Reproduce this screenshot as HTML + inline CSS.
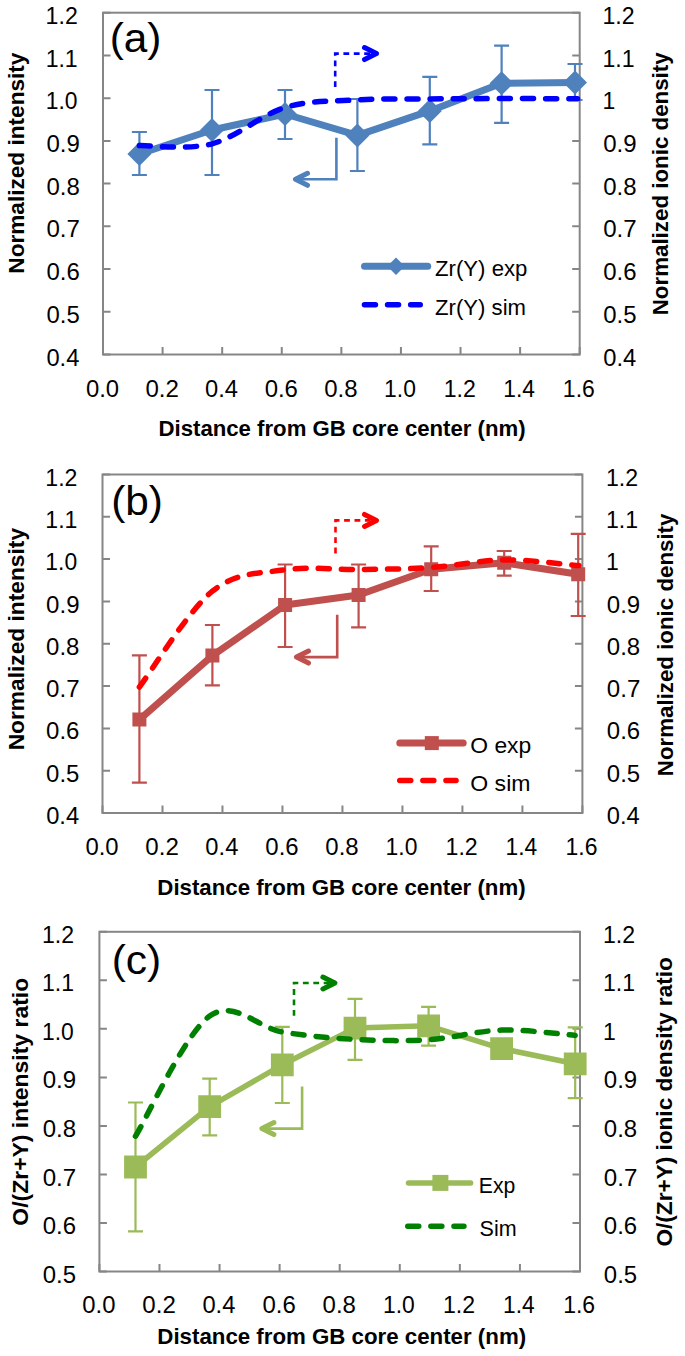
<!DOCTYPE html><html><head><meta charset="utf-8"><style>html,body{margin:0;padding:0;background:#fff;}svg{display:block;}</style></head><body>
<svg width="685" height="1356" viewBox="0 0 685 1356" font-family='"Liberation Sans", sans-serif'>
<rect width="685" height="1356" fill="#fff"/>
<g id="panel-a"><rect x="103" y="12.7" width="476.70" height="341.80" fill="none" stroke="#868686" stroke-width="2"/>
<path d="M103,354.50h7.5M579.7,354.50h-7.5M103,311.77h7.5M579.7,311.77h-7.5M103,269.05h7.5M579.7,269.05h-7.5M103,226.32h7.5M579.7,226.32h-7.5M103,183.60h7.5M579.7,183.60h-7.5M103,140.88h7.5M579.7,140.88h-7.5M103,98.15h7.5M579.7,98.15h-7.5M103,55.42h7.5M579.7,55.42h-7.5M103,12.70h7.5M579.7,12.70h-7.5M103.00,354.5v-7.5M162.59,354.5v-7.5M222.18,354.5v-7.5M281.76,354.5v-7.5M341.35,354.5v-7.5M400.94,354.5v-7.5M460.53,354.5v-7.5M520.11,354.5v-7.5M579.70,354.5v-7.5" stroke="#868686" stroke-width="2" fill="none"/>
<g font-size="23" fill="#000"><text x="46.45" y="365.60" textLength="32.96" lengthAdjust="spacingAndGlyphs">0.4</text><text x="603.25" y="365.60" textLength="32.96" lengthAdjust="spacingAndGlyphs">0.4</text><text x="46.44" y="322.88" textLength="33.27" lengthAdjust="spacingAndGlyphs">0.5</text><text x="603.24" y="322.88" textLength="33.27" lengthAdjust="spacingAndGlyphs">0.5</text><text x="46.44" y="280.15" textLength="33.32" lengthAdjust="spacingAndGlyphs">0.6</text><text x="603.24" y="280.15" textLength="33.32" lengthAdjust="spacingAndGlyphs">0.6</text><text x="46.44" y="237.42" textLength="33.47" lengthAdjust="spacingAndGlyphs">0.7</text><text x="603.24" y="237.42" textLength="33.47" lengthAdjust="spacingAndGlyphs">0.7</text><text x="46.44" y="194.70" textLength="33.32" lengthAdjust="spacingAndGlyphs">0.8</text><text x="603.24" y="194.70" textLength="33.32" lengthAdjust="spacingAndGlyphs">0.8</text><text x="46.44" y="151.97" textLength="33.42" lengthAdjust="spacingAndGlyphs">0.9</text><text x="603.24" y="151.97" textLength="33.42" lengthAdjust="spacingAndGlyphs">0.9</text><text x="45.66" y="109.25" textLength="31.81" lengthAdjust="spacingAndGlyphs">1.0</text><text x="602.45" y="109.25" textLength="12.79" lengthAdjust="spacingAndGlyphs">1</text><text x="45.65" y="66.52" textLength="32.06" lengthAdjust="spacingAndGlyphs">1.1</text><text x="602.45" y="66.52" textLength="32.06" lengthAdjust="spacingAndGlyphs">1.1</text><text x="45.64" y="23.80" textLength="32.11" lengthAdjust="spacingAndGlyphs">1.2</text><text x="602.44" y="23.80" textLength="32.11" lengthAdjust="spacingAndGlyphs">1.2</text><text x="85.90" y="396.60" textLength="33.16" lengthAdjust="spacingAndGlyphs">0.0</text><text x="145.47" y="396.60" textLength="33.47" lengthAdjust="spacingAndGlyphs">0.2</text><text x="205.08" y="396.60" textLength="32.96" lengthAdjust="spacingAndGlyphs">0.4</text><text x="264.65" y="396.60" textLength="33.32" lengthAdjust="spacingAndGlyphs">0.6</text><text x="324.24" y="396.60" textLength="33.32" lengthAdjust="spacingAndGlyphs">0.8</text><text x="384.10" y="396.60" textLength="31.81" lengthAdjust="spacingAndGlyphs">1.0</text><text x="443.67" y="396.60" textLength="32.11" lengthAdjust="spacingAndGlyphs">1.2</text><text x="503.28" y="396.60" textLength="31.61" lengthAdjust="spacingAndGlyphs">1.4</text><text x="562.85" y="396.60" textLength="31.96" lengthAdjust="spacingAndGlyphs">1.6</text></g>
<text x="158.54" y="436.00" font-size="22" font-weight="bold" textLength="367.06" lengthAdjust="spacingAndGlyphs">Distance from GB core center (nm)</text>
<text transform="translate(24.00,272.20) rotate(-90)" x="-1.49" y="0" font-size="22" font-weight="bold" textLength="221.12" lengthAdjust="spacingAndGlyphs">Normalized intensity</text>
<text transform="translate(667.80,313.80) rotate(-90)" x="-1.47" y="0" font-size="22" font-weight="bold" textLength="262.92" lengthAdjust="spacingAndGlyphs">Normalized ionic density</text>
<text x="109.67" y="52.10" font-size="41" textLength="51.76" lengthAdjust="spacingAndGlyphs">(a)</text>
<path d="M139.40,132.00V175.00M131.90,132.00h15M131.90,175.00h15M212.00,90.00V175.00M204.50,90.00h15M204.50,175.00h15M285.00,90.00V139.00M277.50,90.00h15M277.50,139.00h15M357.40,99.00V171.00M349.90,99.00h15M349.90,171.00h15M429.80,76.80V144.30M422.30,76.80h15M422.30,144.30h15M501.60,45.70V122.80M494.10,45.70h15M494.10,122.80h15M575.00,64.00V100.00M567.50,64.00h15M567.50,100.00h15" stroke="#4F81BD" stroke-width="2.2" fill="none"/>
<path d="M139.40,154.00 L212.00,130.00 L285.00,114.00 L357.40,135.40 L429.80,110.90 L501.60,83.30 L575.00,82.60" stroke="#4F81BD" stroke-width="7" fill="none" stroke-linejoin="round"/>
<path d="M139.40,142.00L151.40,154.00L139.40,166.00L127.40,154.00ZM212.00,118.00L224.00,130.00L212.00,142.00L200.00,130.00ZM285.00,102.00L297.00,114.00L285.00,126.00L273.00,114.00ZM357.40,123.40L369.40,135.40L357.40,147.40L345.40,135.40ZM429.80,98.90L441.80,110.90L429.80,122.90L417.80,110.90ZM501.60,71.30L513.60,83.30L501.60,95.30L489.60,83.30ZM575.00,70.60L587.00,82.60L575.00,94.60L563.00,82.60Z" fill="#4F81BD"/>
<path d="M139.40,145.60 C151.50,145.30 187.73,150.15 212.00,143.80 C236.27,137.45 260.83,114.82 285.00,107.50 C309.17,100.18 332.83,101.33 357.00,99.90 C381.17,98.47 405.93,99.12 430.00,98.90 C454.07,98.68 476.82,98.63 501.40,98.60 C525.98,98.57 564.82,98.68 577.50,98.70" stroke="#0000FF" stroke-width="5.5" fill="none" stroke-dasharray="11 12.1" stroke-linecap="round"/>
<path d="M335.2,87V53.6H377" stroke="#0000FF" stroke-width="2.6" fill="none" stroke-dasharray="5.8 4.6"/>
<path d="M364.50,47.60 L376.50,53.60 L364.50,59.60" stroke="#0000FF" stroke-width="5" fill="none" stroke-linecap="round" stroke-linejoin="round"/>
<path d="M336.4,137.7V179.3H295" stroke="#4F81BD" stroke-width="2.6" fill="none"/>
<path d="M307.50,173.30 L295.50,179.30 L307.50,185.30" stroke="#4F81BD" stroke-width="5" fill="none" stroke-linecap="round" stroke-linejoin="round"/>
<path d="M364.5,266.3H427.7" stroke="#4F81BD" stroke-width="7" stroke-linecap="round"/>
<path d="M396,257.6L404.7,266.3L396,275.0L387.3,266.3Z" fill="#4F81BD"/>
<path d="M364.45,304.8H420.25" stroke="#0000FF" stroke-width="5.5" stroke-linecap="round" stroke-dasharray="11 12.1"/>
<text x="435.09" y="276.30" font-size="22.2" textLength="92.26" lengthAdjust="spacingAndGlyphs">Zr(Y) exp</text>
<text x="435.09" y="315.30" font-size="22.2" textLength="90.97" lengthAdjust="spacingAndGlyphs">Zr(Y) sim</text></g>
<g id="panel-b"><rect x="102.5" y="474.5" width="479.90" height="338.50" fill="none" stroke="#868686" stroke-width="2"/>
<path d="M102.5,813.00h7.5M582.4,813.00h-7.5M102.5,770.69h7.5M582.4,770.69h-7.5M102.5,728.38h7.5M582.4,728.38h-7.5M102.5,686.06h7.5M582.4,686.06h-7.5M102.5,643.75h7.5M582.4,643.75h-7.5M102.5,601.44h7.5M582.4,601.44h-7.5M102.5,559.12h7.5M582.4,559.12h-7.5M102.5,516.81h7.5M582.4,516.81h-7.5M102.5,474.50h7.5M582.4,474.50h-7.5M102.50,813v-7.5M162.49,813v-7.5M222.47,813v-7.5M282.46,813v-7.5M342.45,813v-7.5M402.44,813v-7.5M462.42,813v-7.5M522.41,813v-7.5M582.40,813v-7.5" stroke="#868686" stroke-width="2" fill="none"/>
<g font-size="23" fill="#000"><text x="46.15" y="824.10" textLength="32.96" lengthAdjust="spacingAndGlyphs">0.4</text><text x="606.85" y="824.10" textLength="32.96" lengthAdjust="spacingAndGlyphs">0.4</text><text x="46.14" y="781.79" textLength="33.27" lengthAdjust="spacingAndGlyphs">0.5</text><text x="606.84" y="781.79" textLength="33.27" lengthAdjust="spacingAndGlyphs">0.5</text><text x="46.14" y="739.48" textLength="33.32" lengthAdjust="spacingAndGlyphs">0.6</text><text x="606.84" y="739.48" textLength="33.32" lengthAdjust="spacingAndGlyphs">0.6</text><text x="46.14" y="697.16" textLength="33.47" lengthAdjust="spacingAndGlyphs">0.7</text><text x="606.84" y="697.16" textLength="33.47" lengthAdjust="spacingAndGlyphs">0.7</text><text x="46.14" y="654.85" textLength="33.32" lengthAdjust="spacingAndGlyphs">0.8</text><text x="606.84" y="654.85" textLength="33.32" lengthAdjust="spacingAndGlyphs">0.8</text><text x="46.14" y="612.54" textLength="33.42" lengthAdjust="spacingAndGlyphs">0.9</text><text x="606.84" y="612.54" textLength="33.42" lengthAdjust="spacingAndGlyphs">0.9</text><text x="45.36" y="570.23" textLength="31.81" lengthAdjust="spacingAndGlyphs">1.0</text><text x="606.05" y="570.23" textLength="12.79" lengthAdjust="spacingAndGlyphs">1</text><text x="45.35" y="527.91" textLength="32.06" lengthAdjust="spacingAndGlyphs">1.1</text><text x="606.05" y="527.91" textLength="32.06" lengthAdjust="spacingAndGlyphs">1.1</text><text x="45.34" y="485.60" textLength="32.11" lengthAdjust="spacingAndGlyphs">1.2</text><text x="606.04" y="485.60" textLength="32.11" lengthAdjust="spacingAndGlyphs">1.2</text><text x="85.40" y="855.00" textLength="33.16" lengthAdjust="spacingAndGlyphs">0.0</text><text x="145.37" y="855.00" textLength="33.47" lengthAdjust="spacingAndGlyphs">0.2</text><text x="205.38" y="855.00" textLength="32.96" lengthAdjust="spacingAndGlyphs">0.4</text><text x="265.35" y="855.00" textLength="33.32" lengthAdjust="spacingAndGlyphs">0.6</text><text x="325.34" y="855.00" textLength="33.32" lengthAdjust="spacingAndGlyphs">0.8</text><text x="385.60" y="855.00" textLength="31.81" lengthAdjust="spacingAndGlyphs">1.0</text><text x="445.57" y="855.00" textLength="32.11" lengthAdjust="spacingAndGlyphs">1.2</text><text x="505.58" y="855.00" textLength="31.61" lengthAdjust="spacingAndGlyphs">1.4</text><text x="565.55" y="855.00" textLength="31.96" lengthAdjust="spacingAndGlyphs">1.6</text></g>
<text x="157.33" y="895.40" font-size="22" font-weight="bold" textLength="368.27" lengthAdjust="spacingAndGlyphs">Distance from GB core center (nm)</text>
<text transform="translate(24.00,748.80) rotate(-90)" x="-1.50" y="0" font-size="22" font-weight="bold" textLength="222.33" lengthAdjust="spacingAndGlyphs">Normalized intensity</text>
<text transform="translate(672.70,774.70) rotate(-90)" x="-1.47" y="0" font-size="22" font-weight="bold" textLength="262.61" lengthAdjust="spacingAndGlyphs">Normalized ionic density</text>
<text x="111.17" y="514.90" font-size="41" textLength="51.76" lengthAdjust="spacingAndGlyphs">(b)</text>
<path d="M139.40,655.40V782.60M131.90,655.40h15M131.90,782.60h15M212.40,625.00V685.40M204.90,625.00h15M204.90,685.40h15M285.10,564.50V647.00M277.60,564.50h15M277.60,647.00h15M358.60,564.50V627.30M351.10,564.50h15M351.10,627.30h15M431.20,546.40V591.00M423.70,546.40h15M423.70,591.00h15M504.20,551.00V575.60M496.70,551.00h15M496.70,575.60h15M578.20,533.90V616.00M570.70,533.90h15M570.70,616.00h15" stroke="#C0504D" stroke-width="2.2" fill="none"/>
<path d="M139.40,719.60 L212.40,655.60 L285.10,605.00 L358.60,595.00 L431.20,569.20 L504.20,562.80 L578.20,574.20" stroke="#C0504D" stroke-width="7" fill="none" stroke-linejoin="round"/>
<path d="M132.40,712.60h14v14h-14ZM205.40,648.60h14v14h-14ZM278.10,598.00h14v14h-14ZM351.60,588.00h14v14h-14ZM424.20,562.20h14v14h-14ZM497.20,555.80h14v14h-14ZM571.20,567.20h14v14h-14Z" fill="#C0504D"/>
<path d="M139.40,687.00 C151.57,671.03 188.12,610.73 212.40,591.20 C236.68,571.67 260.73,573.42 285.10,569.80 C309.47,566.18 334.25,569.88 358.60,569.50 C382.95,569.12 406.93,569.10 431.20,567.50 C455.47,565.90 479.57,560.22 504.20,559.90 C528.83,559.58 566.53,564.65 579.00,565.60" stroke="#FF0000" stroke-width="5.5" fill="none" stroke-dasharray="11 12.1" stroke-linecap="round"/>
<path d="M335.5,553.4V520.4H377" stroke="#FF0000" stroke-width="2.6" fill="none" stroke-dasharray="5.8 4.6"/>
<path d="M364.50,514.40 L376.50,520.40 L364.50,526.40" stroke="#FF0000" stroke-width="5" fill="none" stroke-linecap="round" stroke-linejoin="round"/>
<path d="M337.2,614.7V657.1H296" stroke="#C0504D" stroke-width="2.6" fill="none"/>
<path d="M308.50,651.10 L296.50,657.10 L308.50,663.10" stroke="#C0504D" stroke-width="5" fill="none" stroke-linecap="round" stroke-linejoin="round"/>
<path d="M399.8,743.1H463.2" stroke="#C0504D" stroke-width="7" stroke-linecap="round"/>
<rect x="424.8" y="736.1" width="14" height="14" fill="#C0504D"/>
<path d="M399.75,780.4H456.05" stroke="#FF0000" stroke-width="5.5" stroke-linecap="round" stroke-dasharray="11 12.1"/>
<text x="470.30" y="752.50" font-size="22.2" textLength="60.96" lengthAdjust="spacingAndGlyphs">O exp</text>
<text x="470.29" y="791.00" font-size="22.2" textLength="60.20" lengthAdjust="spacingAndGlyphs">O sim</text></g>
<g id="panel-c"><rect x="99.4" y="931.8" width="480.60" height="339.70" fill="none" stroke="#868686" stroke-width="2"/>
<path d="M99.4,1271.50h7.5M580,1271.50h-7.5M99.4,1222.97h7.5M580,1222.97h-7.5M99.4,1174.44h7.5M580,1174.44h-7.5M99.4,1125.91h7.5M580,1125.91h-7.5M99.4,1077.39h7.5M580,1077.39h-7.5M99.4,1028.86h7.5M580,1028.86h-7.5M99.4,980.33h7.5M580,980.33h-7.5M99.4,931.80h7.5M580,931.80h-7.5M99.40,1271.5v-7.5M159.48,1271.5v-7.5M219.55,1271.5v-7.5M279.62,1271.5v-7.5M339.70,1271.5v-7.5M399.77,1271.5v-7.5M459.85,1271.5v-7.5M519.93,1271.5v-7.5M580.00,1271.5v-7.5" stroke="#868686" stroke-width="2" fill="none"/>
<g font-size="23" fill="#000"><text x="42.74" y="1282.60" textLength="33.27" lengthAdjust="spacingAndGlyphs">0.5</text><text x="603.84" y="1282.60" textLength="33.27" lengthAdjust="spacingAndGlyphs">0.5</text><text x="42.74" y="1234.07" textLength="33.32" lengthAdjust="spacingAndGlyphs">0.6</text><text x="603.84" y="1234.07" textLength="33.32" lengthAdjust="spacingAndGlyphs">0.6</text><text x="42.74" y="1185.54" textLength="33.47" lengthAdjust="spacingAndGlyphs">0.7</text><text x="603.84" y="1185.54" textLength="33.47" lengthAdjust="spacingAndGlyphs">0.7</text><text x="42.74" y="1137.01" textLength="33.32" lengthAdjust="spacingAndGlyphs">0.8</text><text x="603.84" y="1137.01" textLength="33.32" lengthAdjust="spacingAndGlyphs">0.8</text><text x="42.74" y="1088.49" textLength="33.42" lengthAdjust="spacingAndGlyphs">0.9</text><text x="603.84" y="1088.49" textLength="33.42" lengthAdjust="spacingAndGlyphs">0.9</text><text x="41.96" y="1039.96" textLength="31.81" lengthAdjust="spacingAndGlyphs">1.0</text><text x="603.05" y="1039.96" textLength="12.79" lengthAdjust="spacingAndGlyphs">1</text><text x="41.95" y="991.43" textLength="32.06" lengthAdjust="spacingAndGlyphs">1.1</text><text x="603.05" y="991.43" textLength="32.06" lengthAdjust="spacingAndGlyphs">1.1</text><text x="41.94" y="942.90" textLength="32.11" lengthAdjust="spacingAndGlyphs">1.2</text><text x="603.04" y="942.90" textLength="32.11" lengthAdjust="spacingAndGlyphs">1.2</text><text x="82.30" y="1312.90" textLength="33.16" lengthAdjust="spacingAndGlyphs">0.0</text><text x="142.36" y="1312.90" textLength="33.47" lengthAdjust="spacingAndGlyphs">0.2</text><text x="202.45" y="1312.90" textLength="32.96" lengthAdjust="spacingAndGlyphs">0.4</text><text x="262.52" y="1312.90" textLength="33.32" lengthAdjust="spacingAndGlyphs">0.6</text><text x="322.59" y="1312.90" textLength="33.32" lengthAdjust="spacingAndGlyphs">0.8</text><text x="382.94" y="1312.90" textLength="31.81" lengthAdjust="spacingAndGlyphs">1.0</text><text x="442.99" y="1312.90" textLength="32.11" lengthAdjust="spacingAndGlyphs">1.2</text><text x="503.10" y="1312.90" textLength="31.61" lengthAdjust="spacingAndGlyphs">1.4</text><text x="563.15" y="1312.90" textLength="31.96" lengthAdjust="spacingAndGlyphs">1.6</text></g>
<text x="157.33" y="1343.50" font-size="22" font-weight="bold" textLength="368.77" lengthAdjust="spacingAndGlyphs">Distance from GB core center (nm)</text>
<text transform="translate(28.00,1224.70) rotate(-90)" x="-0.96" y="0" font-size="22" font-weight="bold" textLength="247.86" lengthAdjust="spacingAndGlyphs">O/(Zr+Y) intensity ratio</text>
<text transform="translate(672.00,1245.60) rotate(-90)" x="-0.95" y="0" font-size="22" font-weight="bold" textLength="289.35" lengthAdjust="spacingAndGlyphs">O/(Zr+Y) ionic density ratio</text>
<text x="111.66" y="974.30" font-size="41" textLength="49.57" lengthAdjust="spacingAndGlyphs">(c)</text>
<path d="M135.50,1102.50V1231.30M128.00,1102.50h15M128.00,1231.30h15M209.70,1078.70V1135.30M202.20,1078.70h15M202.20,1135.30h15M282.30,1026.90V1103.00M274.80,1026.90h15M274.80,1103.00h15M355.00,998.80V1059.90M347.50,998.80h15M347.50,1059.90h15M428.60,1006.90V1045.70M421.10,1006.90h15M421.10,1045.70h15M501.60,1045.00V1052.00M494.10,1045.00h15M494.10,1052.00h15M575.20,1027.30V1098.20M567.70,1027.30h15M567.70,1098.20h15" stroke="#9BBB59" stroke-width="2.2" fill="none"/>
<path d="M135.50,1167.00 L209.70,1106.70 L282.30,1064.80 L355.00,1028.10 L428.60,1025.80 L501.60,1048.60 L575.20,1063.80" stroke="#9BBB59" stroke-width="5.5" fill="none" stroke-linejoin="round"/>
<path d="M124.10,1155.60h22.8v22.8h-22.8ZM198.30,1095.30h22.8v22.8h-22.8ZM270.90,1053.40h22.8v22.8h-22.8ZM343.60,1016.70h22.8v22.8h-22.8ZM417.20,1014.40h22.8v22.8h-22.8ZM490.20,1037.20h22.8v22.8h-22.8ZM563.80,1052.40h22.8v22.8h-22.8Z" fill="#9BBB59"/>
<path d="M135.50,1136.20 C147.87,1116.17 185.23,1033.37 209.70,1016.00 C234.17,998.63 258.08,1028.10 282.30,1032.00 C306.52,1035.90 330.62,1038.12 355.00,1039.40 C379.38,1040.68 404.17,1041.25 428.60,1039.70 C453.03,1038.15 477.17,1030.82 501.60,1030.10 C526.03,1029.38 562.93,1034.52 575.20,1035.40" stroke="#008000" stroke-width="5.5" fill="none" stroke-dasharray="11 12.1" stroke-linecap="round"/>
<path d="M294,1015.7V983H335.4" stroke="#008000" stroke-width="2.6" fill="none" stroke-dasharray="5.8 4.6"/>
<path d="M322.90,977.00 L334.90,983.00 L322.90,989.00" stroke="#008000" stroke-width="5" fill="none" stroke-linecap="round" stroke-linejoin="round"/>
<path d="M302.1,1086.4V1128.6H261.4" stroke="#9BBB59" stroke-width="2.6" fill="none"/>
<path d="M273.90,1122.60 L261.90,1128.60 L273.90,1134.60" stroke="#9BBB59" stroke-width="5" fill="none" stroke-linecap="round" stroke-linejoin="round"/>
<path d="M408.5,1182.9H470.6" stroke="#9BBB59" stroke-width="5.5" stroke-linecap="round"/>
<rect x="432.4" y="1174.9" width="16" height="16" fill="#9BBB59"/>
<path d="M407.75,1226.2H463.95" stroke="#008000" stroke-width="5.5" stroke-linecap="round" stroke-dasharray="11 12.1"/>
<text x="478.86" y="1192.80" font-size="22.2" textLength="36.51" lengthAdjust="spacingAndGlyphs">Exp</text>
<text x="479.61" y="1236.20" font-size="22.2" textLength="37.07" lengthAdjust="spacingAndGlyphs">Sim</text></g>
</svg></body></html>
